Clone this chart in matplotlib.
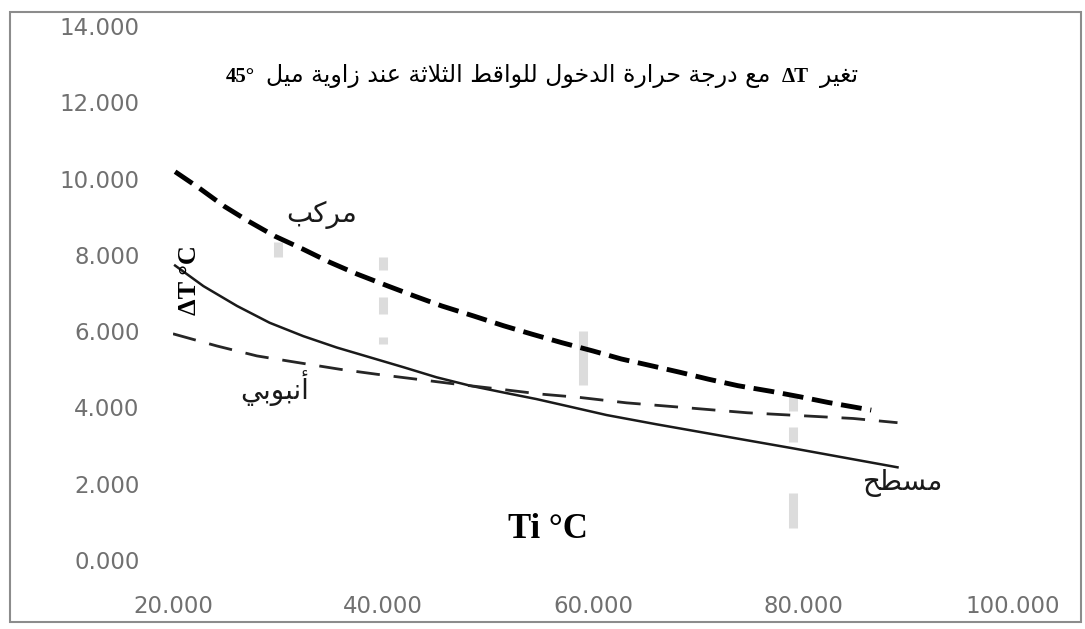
import matplotlib
matplotlib.use("Agg")
import matplotlib.pyplot as plt
from matplotlib.patches import Rectangle
from matplotlib.offsetbox import TextArea, HPacker, AnchoredOffsetbox

# valeurs
composite_x = [20.2, 22.5, 24.9, 27.2, 29.7, 32.3, 34.9, 37.5, 40.5, 43.0, 45.6,
               48.6, 51.5, 54.2, 57.0, 60.0, 62.7, 65.6, 68.3, 71.0, 73.8,
               77.0, 79.7, 82.4, 86.5]
composite_y = [10.18, 9.75, 9.27, 8.88, 8.49, 8.16, 7.81, 7.50, 7.18, 6.92, 6.66,
               6.40, 6.14, 5.92, 5.70, 5.48, 5.27, 5.09, 4.92, 4.74, 4.57,
               4.42, 4.28, 4.13, 3.93]

flat_x = [20.2, 22.9, 26.1, 29.2, 32.4, 35.6, 38.8, 42.0, 45.1, 48.3, 51.5,
          54.6, 57.8, 61.3, 66, 73, 79, 84, 89]
flat_y = [7.72, 7.18, 6.66, 6.22, 5.87, 5.57, 5.31, 5.05, 4.79, 4.57, 4.39,
          4.22, 4.02, 3.80, 3.56, 3.22, 2.93, 2.68, 2.43]

tube_x = [20, 24.2, 28.0, 31.8, 35.9, 39.4, 43.2, 47.0, 51.1, 55.0, 58.8,
          63.2, 69.0, 74.7, 84.8, 89]
tube_y = [5.93, 5.61, 5.35, 5.18, 5.00, 4.87, 4.74, 4.61, 4.48, 4.35, 4.26,
          4.12, 3.99, 3.86, 3.71, 3.60]

# taches grises pâles (points masqués)
mark_x = [30, 40, 40, 40, 59, 79, 79, 79]
mark_lo = [7.95, 7.6, 6.45, 5.65, 4.6, 3.9, 3.1, 0.85]
mark_hi = [8.35, 7.95, 6.9, 5.85, 6.0, 4.35, 3.5, 1.75]

x_ticks = [20, 40, 60, 80, 100]
y_ticks = [0, 2, 4, 6, 8, 10, 12, 14]

# mise en forme arabe (formes de présentation + ordre visuel)
FORMS = {
    'ا': (0xFE8D, 0xFE8E), 'أ': (0xFE83, 0xFE84), 'د': (0xFEA9, 0xFEAA),
    'ر': (0xFEAD, 0xFEAE), 'ز': (0xFEAF, 0xFEB0), 'و': (0xFEED, 0xFEEE),
    'ة': (0xFE93, 0xFE94),
    'ب': 0xFE8F, 'ت': 0xFE95, 'ث': 0xFE99, 'ج': 0xFE9D, 'ح': 0xFEA1,
    'خ': 0xFEA5, 'س': 0xFEB1, 'ط': 0xFEC1, 'ع': 0xFEC9, 'غ': 0xFECD,
    'ق': 0xFED5, 'ك': 0xFED9, 'ل': 0xFEDD, 'م': 0xFEE1, 'ن': 0xFEE5,
    'ي': 0xFEF1,
}


def shape(txt):
    out = []
    i = 0
    while i < len(txt):
        ch = txt[i]
        prev = i > 0 and isinstance(FORMS.get(txt[i - 1]), int)
        nxt = txt[i + 1] if i + 1 < len(txt) else ''
        if ch not in FORMS:
            out.append(ch)
            i += 1
            continue
        if ch == 'ل' and nxt and nxt in 'اأ':
            lig = {'ا': 0xFEFB, 'أ': 0xFEF7}[nxt]
            out.append(chr(lig + int(prev)))
            i += 2
            continue
        f = FORMS[ch]
        if isinstance(f, tuple):
            out.append(chr(f[1] if prev else f[0]))
        else:
            joins = nxt in FORMS
            off = 3 if (prev and joins) else 1 if prev else 2 if joins else 0
            out.append(chr(f + off))
        i += 1
    return ''.join(reversed(out))


W, H = 1085, 629
fig = plt.figure(figsize=(10.85, 6.29), dpi=100, facecolor='white')
ax = fig.add_axes([173 / W, 69 / H, 840 / W, 534 / H])

ax.vlines(mark_x, mark_lo, mark_hi, colors='#dcdcdc', linewidth=6.5, zorder=1)

ax.plot(composite_x, composite_y, color='black', linewidth=3.5,
        linestyle=(0, (4.3, 1.8)), zorder=3)
ax.plot(flat_x, flat_y, color='#1a1a1a', linewidth=1.8, zorder=3)
ax.plot(tube_x, tube_y, color='#262626', linewidth=2.0,
        linestyle=(0, (8.5, 5)), zorder=3)

ax.set_xlim(20, 100)
ax.set_ylim(0, 14)
ax.set_xticks(x_ticks)
ax.set_yticks(y_ticks)
ax.xaxis.set_major_formatter(lambda v, p: f"{v:.3f}")
ax.yaxis.set_major_formatter(lambda v, p: f"{v:.3f}")
ax.tick_params(length=0, labelsize=16.5, labelcolor='#707070')
ax.tick_params(axis='x', pad=25)
ax.tick_params(axis='y', pad=24)
for s in ax.spines.values():
    s.set_visible(False)
ax.patch.set_alpha(0)

# étiquettes des courbes
lab = dict(fontsize=20, ha='center', va='center', color='#1a1a1a')
fig.text(322 / W, 1 - 215 / H, shape('مركب'), **lab)
fig.text(275 / W, 1 - 388 / H, shape('أنبوبي'), **lab)
fig.text(903 / W, 1 - 483 / H, shape('مسطح'), **lab)

serif = 'Liberation Serif'
fig.text(190 / W, 1 - 280 / H, 'ΔT °C', rotation=90, fontsize=19,
         fontweight='bold', family=serif, ha='center', va='center')
fig.text(548 / W, 1 - 530 / H, 'Ti °C', fontsize=25,
         fontweight='bold', family=serif, ha='center', va='center')

# titre
bold = dict(fontsize=15, fontweight='bold', family=serif)
parts = [
    TextArea('45°', textprops=bold),
    TextArea(shape('مع درجة حرارة الدخول للواقط الثلاثة عند زاوية ميل'),
             textprops=dict(fontsize=17)),
    TextArea('ΔT', textprops=bold),
    TextArea(shape('تغير'), textprops=dict(fontsize=17)),
]
title = HPacker(children=parts, sep=8, align='baseline')
box = AnchoredOffsetbox(loc='center', child=title, frameon=False, pad=0,
                        borderpad=0, bbox_to_anchor=(542 / W, 1 - 75 / H),
                        bbox_transform=fig.transFigure)
fig.add_artist(box)

# cadre
fig.patches.append(Rectangle((10 / W, 7 / H), 1071 / W, 610 / H,
                             transform=fig.transFigure, fill=False,
                             edgecolor='#8c8c8c', linewidth=1.5))

plt.savefig('out.png', dpi=100)
